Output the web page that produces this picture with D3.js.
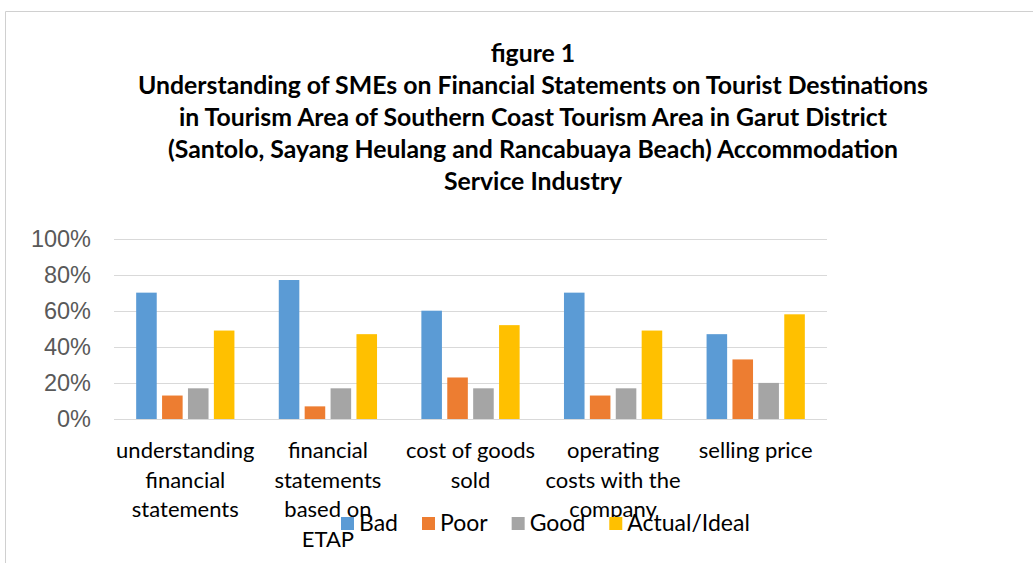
<!DOCTYPE html>
<html>
<head>
<meta charset="utf-8">
<script src="https://cdnjs.cloudflare.com/ajax/libs/d3/7.8.5/d3.min.js"></script>
<style>
  body { margin: 0; background: #fff; }
  svg { display: block; }
</style>
</head>
<body>
<div id="chart"></div>
<script>
const width = 1033;
const height = 563;

// data
const titleLines = [
  "figure 1",
  "Understanding of SMEs on Financial Statements on Tourist Destinations",
  "in Tourism Area of Southern Coast Tourism Area in Garut District",
  "(Santolo, Sayang Heulang and Rancabuaya Beach) Accommodation",
  "Service Industry"
];
const categories = [
  ["understanding", "financial", "statements"],
  ["financial", "statements", "based on", "ETAP"],
  ["cost of goods", "sold"],
  ["operating", "costs with the", "company"],
  ["selling price"]
];
const seriesNames = ["Bad", "Poor", "Good", "Actual/Ideal"];
const bad = [0.70, 0.77, 0.60, 0.70, 0.47];
const poor = [0.13, 0.07, 0.23, 0.13, 0.33];
const good = [0.17, 0.17, 0.17, 0.17, 0.20];
const actualIdeal = [0.49, 0.47, 0.52, 0.49, 0.58];
const yTicks = [0, 0.2, 0.4, 0.6, 0.8, 1.0];
const colors = ["#5B9BD5", "#ED7D31", "#A5A5A5", "#FFC000"];

const seriesValues = [bad, poor, good, actualIdeal];
const catNames = categories.map(c => c.join(" "));

const labelFont = "Lato, 'Open Sans', sans-serif";

const svg = d3.select("#chart")
  .append("svg")
  .attr("width", width)
  .attr("height", height);

// chart border (top and left visible)
svg.append("path")
  .attr("d", "M5.5,563 L5.5,11.5 L1033,11.5")
  .attr("fill", "none")
  .attr("stroke", "#d0d0d0")
  .attr("stroke-width", 1);

// title
svg.append("text")
  .attr("text-anchor", "middle")
  .attr("font-family", labelFont)
  .attr("font-weight", "bold")
  .attr("font-size", 24.8)
  .attr("fill", "#000")
  .selectAll("tspan")
  .data(titleLines)
  .enter()
  .append("tspan")
  .attr("x", 533)
  .attr("y", (d, i) => 62 + i * 32)
  .text(d => d);

const x0 = d3.scaleBand()
  .domain(catNames)
  .range([114, 827]);

const x1 = d3.scaleBand()
  .domain(seriesNames)
  .range([0, x0.bandwidth()])
  .paddingInner(0.206)
  .paddingOuter(0.856);

const y = d3.scaleLinear()
  .domain([0, 1])
  .range([419, 238.5]);

// gridlines
svg.append("g")
  .selectAll("line")
  .data(yTicks)
  .enter()
  .append("line")
  .attr("x1", 114)
  .attr("x2", 827)
  .attr("y1", d => Math.round(y(d)) + 0.5)
  .attr("y2", d => Math.round(y(d)) + 0.5)
  .attr("stroke", "#d9d9d9")
  .attr("stroke-width", 1.2);

// y axis labels
const yAxis = d3.axisLeft(y)
  .tickValues(yTicks)
  .tickFormat(d3.format(".0%"))
  .tickSize(0)
  .tickPadding(0);

const yg = svg.append("g")
  .attr("transform", "translate(91,0)")
  .call(yAxis);
yg.select(".domain").remove();
yg.selectAll("text")
  .attr("font-family", "'Liberation Sans', Arial, sans-serif")
  .attr("font-size", 23.5)
  .attr("fill", "#595959");

// bars
const groups = svg.append("g")
  .selectAll("g")
  .data(catNames)
  .enter()
  .append("g")
  .attr("transform", d => "translate(" + x0(d) + ",0)");

groups.selectAll("rect")
  .data((d, i) => seriesNames.map((s, j) => ({ s: s, v: seriesValues[j][i], c: colors[j] })))
  .enter()
  .append("rect")
  .attr("x", d => x1(d.s))
  .attr("y", d => y(d.v))
  .attr("width", x1.bandwidth())
  .attr("height", d => y(0) - y(d.v))
  .attr("fill", d => d.c);

// category labels
svg.append("g")
  .selectAll("text")
  .data(categories)
  .enter()
  .append("text")
  .attr("text-anchor", "middle")
  .attr("font-family", labelFont)
  .attr("font-size", 22)
  .attr("fill", "#000")
  .each(function (lines, i) {
    const cx = x0(catNames[i]) + x0.bandwidth() / 2;
    d3.select(this).selectAll("tspan")
      .data(lines)
      .enter()
      .append("tspan")
      .attr("x", cx)
      .attr("y", (d, k) => 458 + k * 29.6)
      .text(d => d);
  });

// legend
const legend = svg.append("g");
let lx = 341;
seriesNames.forEach((s, j) => {
  legend.append("rect")
    .attr("x", lx)
    .attr("y", 517)
    .attr("width", 13)
    .attr("height", 13)
    .attr("fill", colors[j]);
  const t = legend.append("text")
    .attr("x", lx + 18)
    .attr("y", 531)
    .attr("font-family", labelFont)
    .attr("font-size", 23)
    .attr("fill", "#000")
    .text(s);
  lx += 18 + t.node().getComputedTextLength() + 24;
});
</script>
</body>
</html>
